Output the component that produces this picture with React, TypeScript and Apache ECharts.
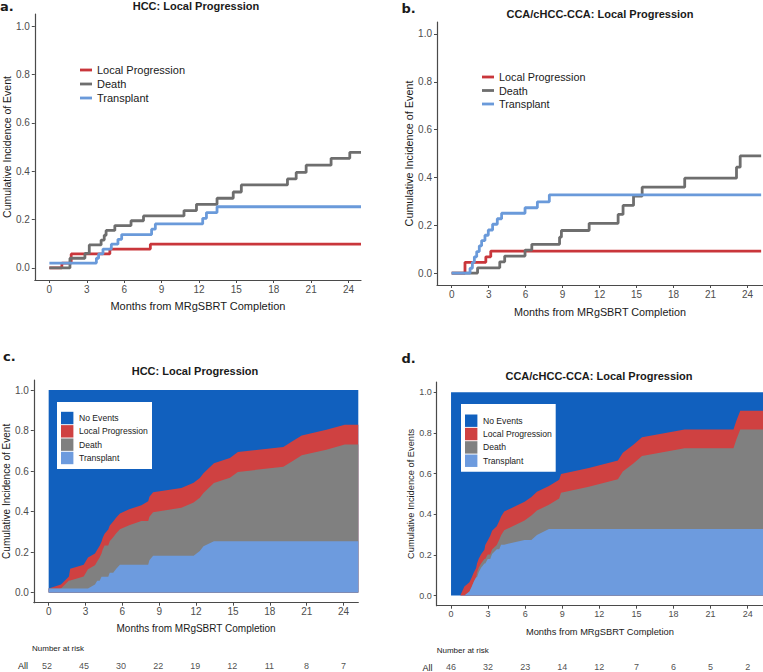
import React, { useEffect, useRef } from "react";
import * as echarts from "echarts";

type Pt = [number, number];

// ---------- data ----------
const monthTicks = [0, 3, 6, 9, 12, 15, 18, 21, 24];
const yTicks = [0, 0.2, 0.4, 0.6, 0.8, 1.0];
const eventNames = ["Local Progression", "Death", "Transplant"];
const stackNames = ["No Events", "Local Progression", "Death", "Transplant"];

// HCC cumulative incidence (value after each jump)
const hccProgression: Pt[] = [[0, 0], [1.0, 0.02], [1.75, 0.058], [4.85, 0.078], [8.1, 0.098]];
const hccDeath: Pt[] = [
  [0, 0], [1.65, 0.04], [2.85, 0.06], [3.2, 0.095], [4.15, 0.115], [4.4, 0.135], [4.55, 0.155],
  [5.25, 0.175], [6.55, 0.195], [7.55, 0.215], [10.8, 0.237], [11.8, 0.263], [13.45, 0.288],
  [14.75, 0.314], [15.4, 0.343], [19.1, 0.368], [19.8, 0.395], [20.6, 0.425], [22.6, 0.453], [24.1, 0.478],
];
const hccTransplant: Pt[] = [
  [0, 0.02], [3.77, 0.04], [3.95, 0.058], [4.3, 0.078], [4.97, 0.098], [5.5, 0.118], [5.8, 0.138],
  [8.2, 0.16], [8.5, 0.182], [12.3, 0.205], [12.6, 0.229], [13.45, 0.253],
];

// CCA/cHCC-CCA cumulative incidence (includes a censoring time with no jump at 22.85)
const ccaProgression: Pt[] = [[0, 0], [0.75, 0], [1.08, 0.045], [2.77, 0.068], [3.17, 0.092]];
const ccaDeath: Pt[] = [
  [0, 0], [2.1, 0.022], [3.9, 0.047], [4.3, 0.071], [5.95, 0.096], [6.5, 0.12], [8.75, 0.15],
  [8.9, 0.178], [11.15, 0.208], [13.5, 0.245], [13.9, 0.283], [14.75, 0.322], [15.45, 0.359],
  [18.9, 0.397], [22.85, 0.397], [23.1, 0.443], [23.4, 0.49],
];
const ccaTransplant: Pt[] = [
  [0, 0], [1.49, 0.02], [1.68, 0.045], [1.84, 0.068], [2.03, 0.09], [2.24, 0.114], [2.43, 0.136],
  [2.7, 0.158], [2.97, 0.18], [3.32, 0.204], [3.7, 0.227], [4.05, 0.25], [5.95, 0.273],
  [6.95, 0.298], [7.92, 0.327],
];

const riskMonths = [0, 3, 6, 9, 12, 15, 18, 21, 24];
const hccAtRisk = [52, 45, 30, 22, 19, 12, 11, 8, 7];
const ccaAtRisk = [46, 32, 23, 14, 12, 7, 6, 5, 2];

// ---------- styles ----------
const FONT = "'Liberation Sans', Arial, Helvetica, sans-serif";
const lineColors = ["#C9363B", "#6E6E6E", "#6A9ADA"];
const areaColors = ["#1160BE", "#CF4141", "#808080", "#6D9BDE"];
const AXIS = "#4a4a4a";

function stepAt(curve: Pt[], t: number) {
  let v = 0;
  for (const [x, y] of curve) if (x <= t) v = y;
  return v;
}

function stackRows(tr: Pt[], de: Pt[], lp: Pt[], end: number) {
  const times = Array.from(new Set([...tr, ...de, ...lp].map((p) => p[0]).concat([end]))).sort((a, b) => a - b);
  return times.map((t) => {
    const a = stepAt(tr, t);
    const b = stepAt(de, t);
    const c = stepAt(lp, t);
    return { t, tr: a, td: a + b, all: a + b + c };
  });
}

function xAxisCfg(gridIndex: number, min: number, max: number, nameGap: number, nameSize: number, labelSize: number) {
  return {
    type: "value", gridIndex, min, max,
    name: "Months from MRgSBRT Completion", nameLocation: "middle", nameGap,
    nameTextStyle: { fontSize: nameSize, color: "#1a1a1a", fontFamily: FONT },
    axisLine: { show: true, onZero: false, lineStyle: { color: AXIS, width: 1.2 } },
    axisTick: { show: true, length: 3, customValues: monthTicks, lineStyle: { color: AXIS } },
    axisLabel: { customValues: monthTicks, fontSize: labelSize, color: "#4d4d4d", fontFamily: FONT, margin: 4 },
    splitLine: { show: false },
  };
}

function yAxisCfg(gridIndex: number, name: string, nameGap: number, nameSize: number, labelSize: number) {
  return {
    type: "value", gridIndex, min: -0.05, max: 1.05,
    name, nameLocation: "middle", nameGap,
    nameTextStyle: { fontSize: nameSize, color: "#1a1a1a", fontFamily: FONT },
    axisLine: { show: true, onZero: false, lineStyle: { color: AXIS, width: 1.2 } },
    axisTick: { show: true, length: 3, customValues: yTicks, lineStyle: { color: AXIS } },
    axisLabel: {
      customValues: yTicks, fontSize: labelSize, color: "#4d4d4d", fontFamily: FONT, margin: 5,
      formatter: (v: number) => v.toFixed(1),
    },
    splitLine: { show: false },
  };
}

function lineSeries(name: string, data: Pt[], end: number, color: string, idx: number) {
  const last = data[data.length - 1][1];
  return {
    type: "line", name, xAxisIndex: idx, yAxisIndex: idx,
    data: [...data, [end, last]], step: "end", symbol: "none", showSymbol: false,
    lineStyle: { color, width: 2.8 }, itemStyle: { color }, silent: true,
  };
}

function areaSeries(name: string, data: number[][], color: string, idx: number) {
  return {
    type: "line", name, xAxisIndex: idx, yAxisIndex: idx, data,
    symbol: "none", showSymbol: false, lineStyle: { width: 0 },
    areaStyle: { color, opacity: 1 }, itemStyle: { color }, silent: true,
  };
}

function stackSeries(tr: Pt[], de: Pt[], lp: Pt[], end: number, idx: number) {
  const rows = stackRows(tr, de, lp, end);
  return [
    areaSeries(stackNames[0], [[0, 1], [end, 1]], areaColors[0], idx),
    areaSeries(stackNames[1], rows.map((r) => [r.t, r.all]), areaColors[1], idx),
    areaSeries(stackNames[2], rows.map((r) => [r.t, r.td]), areaColors[2], idx),
    areaSeries(stackNames[3], rows.map((r) => [r.t, r.tr]), areaColors[3], idx),
  ];
}

function riskSeries(counts: number[], idx: number) {
  return {
    type: "scatter", xAxisIndex: idx, yAxisIndex: idx, symbolSize: 1,
    itemStyle: { color: "rgba(0,0,0,0)" }, silent: true,
    data: riskMonths.map((m, i) => [m, 0.5, counts[i]]),
    label: {
      show: true, position: "inside", fontSize: 9, color: "#222", fontFamily: FONT,
      formatter: (p: any) => String(p.value[2]),
    },
  };
}

function text(x: number, y: number, t: string, size: number, opts: any = {}) {
  return {
    type: "text", x, y, z: 100,
    style: {
      text: t, fontSize: size, fontFamily: opts.family || FONT, fontWeight: opts.weight || "normal",
      fill: opts.fill || "#1a1a1a", align: opts.align || "left", verticalAlign: "middle",
    },
  };
}

function lineLegend(x: number, y0: number, gap: number, size: number) {
  const els: any[] = [];
  eventNames.forEach((n, i) => {
    const y = y0 + i * gap;
    els.push({ type: "line", z: 100, shape: { x1: x, y1: y, x2: x + 12, y2: y }, style: { stroke: lineColors[i], lineWidth: 2.8 } });
    els.push(text(x + 17, y, n, size));
  });
  return els;
}

function boxLegend(bx: number, by: number, bw: number, bh: number, sx: number, y0: number, gap: number, tx: number, size: number) {
  const els: any[] = [{ type: "rect", z: 99, shape: { x: bx, y: by, width: bw, height: bh }, style: { fill: "#ffffff" } }];
  stackNames.forEach((n, i) => {
    const cy = y0 + i * gap;
    els.push({ type: "rect", z: 100, shape: { x: sx, y: cy - 6.2, width: 12.4, height: 12.4 }, style: { fill: areaColors[i] } });
    els.push(text(tx, cy, n, size));
  });
  return els;
}

function buildOption() {
  const letter = { weight: "bold", family: "'DejaVu Sans', sans-serif" };
  const bold = { weight: "bold", align: "center" };
  return {
    animation: false,
    backgroundColor: "#ffffff",
    grid: [
      { left: 33, top: 14, width: 328, height: 266 },
      { left: 437, top: 22, width: 326, height: 263 },
      { left: 32, top: 380, width: 326.3, height: 222.7 },
      { left: 436.7, top: 382, width: 326.3, height: 223.7 },
      { left: 32, top: 660, width: 326.3, height: 12 },
      { left: 436.7, top: 662, width: 326.3, height: 12 },
    ],
    xAxis: [
      xAxisCfg(0, -1.17, 25.0, 20.5, 11, 10),
      xAxisCfg(1, -1.19, 25.25, 21, 10.8, 10),
      xAxisCfg(2, -1.21, 25.2, 21, 10, 10),
      xAxisCfg(3, -1.16, 25.24, 22, 9.3, 9),
      { type: "value", gridIndex: 4, min: -1.21, max: 25.2, show: false },
      { type: "value", gridIndex: 5, min: -1.16, max: 25.24, show: false },
    ],
    yAxis: [
      yAxisCfg(0, "Cumulative Incidence of Event", 20, 10.5, 10),
      yAxisCfg(1, "Cumulative Incidence of Event", 21.5, 10.8, 10),
      yAxisCfg(2, "Cumulative Incidence of Event", 20, 10, 10),
      yAxisCfg(3, "Cumulative Incidence of Events", 21.5, 9.3, 9),
      { type: "value", gridIndex: 4, min: 0, max: 1, show: false },
      { type: "value", gridIndex: 5, min: 0, max: 1, show: false },
    ],
    series: [
      lineSeries(eventNames[0], hccProgression, 25.0, lineColors[0], 0),
      lineSeries(eventNames[1], hccDeath, 25.0, lineColors[1], 0),
      lineSeries(eventNames[2], hccTransplant, 25.0, lineColors[2], 0),
      lineSeries(eventNames[0], ccaProgression, 25.1, lineColors[0], 1),
      lineSeries(eventNames[1], ccaDeath, 25.1, lineColors[1], 1),
      lineSeries(eventNames[2], ccaTransplant, 25.1, lineColors[2], 1),
      ...stackSeries(hccTransplant, hccDeath, hccProgression, 25.2, 2),
      ...stackSeries(ccaTransplant, ccaDeath, ccaProgression, 25.24, 3),
      riskSeries(hccAtRisk, 4),
      riskSeries(ccaAtRisk, 5),
    ],
    graphic: {
      elements: [
        text(0, 6, "a.", 13, letter),
        text(401.5, 8.8, "b.", 13, letter),
        text(3, 356.2, "c.", 13, letter),
        text(401.5, 358.8, "d.", 13, letter),
        text(196, 6, "HCC: Local Progression", 11, bold),
        text(600, 13.5, "CCA/cHCC-CCA: Local Progression", 11, bold),
        text(195, 371, "HCC: Local Progression", 11, bold),
        text(599, 375.5, "CCA/cHCC-CCA: Local Progression", 11, bold),
        ...lineLegend(80, 70, 14, 11),
        ...lineLegend(482, 77, 13.5, 10.8),
        ...boxLegend(57, 402, 95, 67, 61, 418, 13.33, 79, 8.6),
        ...boxLegend(461, 404, 94.7, 67.7, 465, 420.7, 13.35, 483, 8.6),
        text(32, 648, "Number at risk", 8),
        text(436.7, 650, "Number at risk", 8),
        text(23, 665.8, "All", 9, { align: "center" }),
        text(427.5, 668, "All", 9, { align: "center" }),
      ],
    },
  };
}

export default function App() {
  const ref = useRef<HTMLDivElement>(null);
  useEffect(() => {
    if (!ref.current) return;
    const chart = echarts.init(ref.current, undefined, { renderer: "svg" });
    chart.setOption(buildOption() as any);
    return () => chart.dispose();
  }, []);
  return (
    <div
      ref={ref}
      style={{ position: "absolute", left: 0, top: 0, width: 763, height: 672, background: "#fff" }}
    />
  );
}
